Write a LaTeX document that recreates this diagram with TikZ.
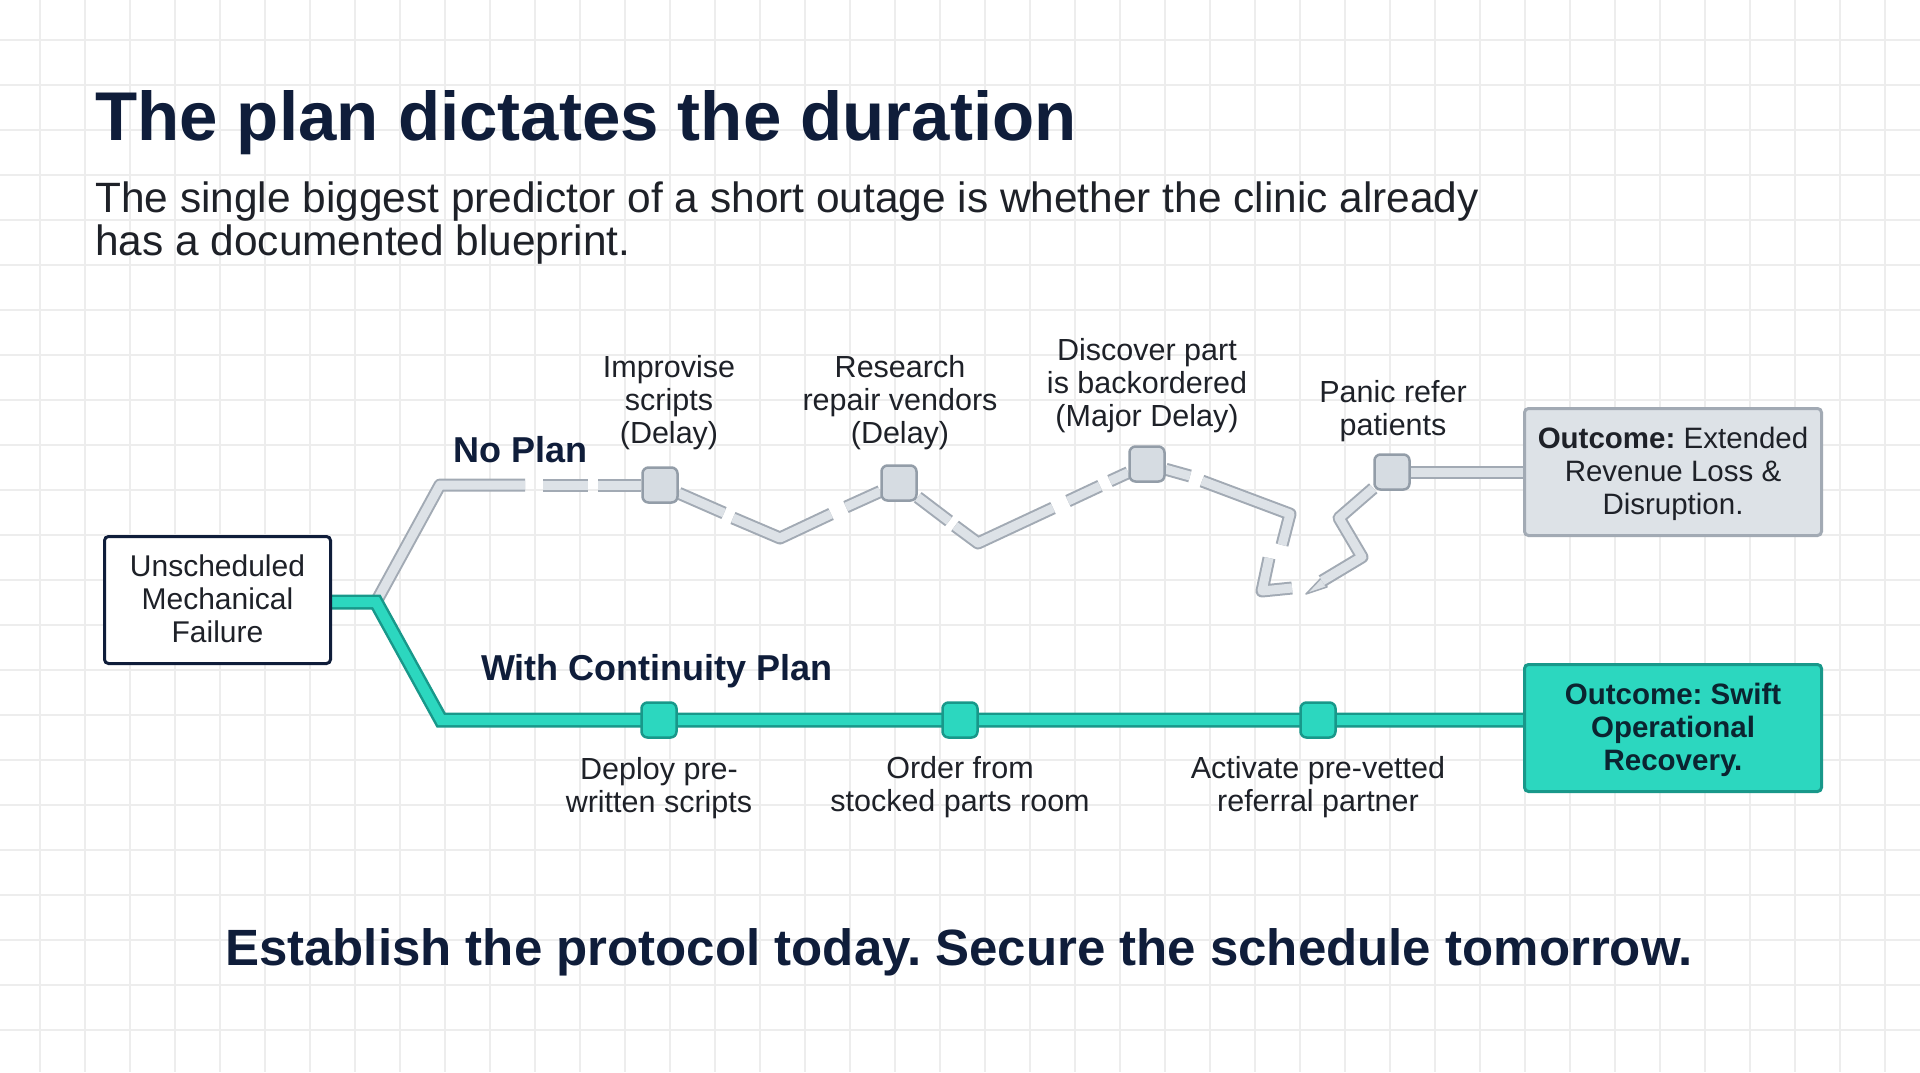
\documentclass[tikz,border=0pt]{standalone}
\usepackage{fontspec}
\setmainfont{Liberation Sans}
\frenchspacing
\definecolor{navy}{HTML}{0F1D3A}
\definecolor{ink}{HTML}{1E2128}
\definecolor{gridc}{HTML}{EDEDED}
\definecolor{greyline}{HTML}{A2AAB4}
\definecolor{greyfill}{HTML}{DDE2E7}
\definecolor{greynode}{HTML}{D6DCE2}
\definecolor{greyedge}{HTML}{939DA8}
\definecolor{tealline}{HTML}{18988A}
\definecolor{tealfill}{HTML}{2CD7BF}
\definecolor{tealtext}{HTML}{0B2430}
\newcommand\ls{\rule[-7pt]{0pt}{33pt}}
\newcommand\lsb{\rule[-9pt]{0pt}{43pt}}
\pgfdeclarelayer{bg}
\pgfsetlayers{bg,main}
\begin{document}
\frenchspacing
\begin{tikzpicture}[x=1pt,y=-1pt,
  lab/.style={font=\fontsize{30.5}{33}\selectfont, text=ink, align=center, inner sep=0pt},
  greyroad/.style={draw=greyline, line width=2pt, double=greyfill, double distance=9pt, line join=round},
  tealroad/.style={draw=tealline, line width=2.5pt, double=tealfill, double distance=10pt, line join=miter},
  gnode/.style={draw=greyedge, line width=2.5pt, fill=greynode, rounded corners=6pt, minimum size=35pt, inner sep=0pt},
  tnode/.style={draw=tealline, line width=2.5pt, fill=tealfill, rounded corners=6pt, minimum size=35pt, inner sep=0pt},
  startbox/.style={draw=navy, line width=3pt, fill=white, rounded corners=4pt, minimum width=226pt, minimum height=127pt, inner sep=0pt, align=center, font=\fontsize{30}{33}\selectfont, text=ink},
  badbox/.style={draw=greyline, line width=3pt, fill=greyfill, rounded corners=4pt, minimum width=297pt, minimum height=127pt, inner sep=0pt, align=center, font=\fontsize{29.5}{33}\selectfont, text=ink},
  goodbox/.style={draw=tealline, line width=3pt, fill=tealfill, rounded corners=4pt, minimum width=297pt, minimum height=127pt, inner sep=0pt, align=center, font=\fontsize{29.5}{33}\selectfont\bfseries, text=tealtext},
  head/.style={font=\fontsize{36}{40}\selectfont\bfseries, text=navy, inner sep=0pt, anchor=base west}
]
\useasboundingbox (0,0) rectangle (1920,1072);

% titles
\node[anchor=base west, inner sep=0pt, text=navy, font=\fontsize{69}{80}\selectfont\bfseries] (title) at (95,140) {The plan dictates the duration};
\node[anchor=north west, inner sep=0pt, align=left, text=ink, font=\fontsize{42.4}{43}\selectfont] (sub) at (95,178) {\lsb The single biggest predictor of a short outage is whether the clinic already\\\lsb has a documented blueprint.};
\node[anchor=base, inner sep=0pt, text=navy, font=\fontsize{51}{56}\selectfont\bfseries] (tag) at (959,965) {Establish the protocol today. Secure the schedule tomorrow.};

% boxes
\node[startbox] (start) at (217.5,600) {\ls Unscheduled\\\ls Mechanical\\\ls Failure};
\node[badbox] (bad) at (1673,472) {\ls\textbf{Outcome:} Extended\\\ls Revenue Loss \&\\\ls Disruption.};
\node[goodbox] (good) at (1673,728) {\ls Outcome: Swift\\\ls Operational\\\ls Recovery.};

% step nodes
\node[gnode] (N1) at (660,485) {};
\node[gnode] (N2) at (899,483) {};
\node[gnode] (N3) at (1147,464) {};
\node[gnode] (N4) at (1392,472) {};
\node[tnode] (T1) at (659,720) {};
\node[tnode] (T2) at (960,720) {};
\node[tnode] (T3) at (1318,720) {};

% path headings
\node[head] (noplan) at (453,462) {No Plan};
\node[head] (withplan) at (481,680) {With Continuity Plan};

% step labels
\node[lab] (L1) at (669,400.5) {\ls Improvise\\\ls scripts\\\ls (Delay)};
\node[lab] (L2) at (900,400.5) {\ls Research\\\ls repair vendors\\\ls (Delay)};
\node[lab] (L3) at (1147,384) {\ls Discover part\\\ls is backordered\\\ls (Major Delay)};
\node[lab] (L4) at (1393,409) {\ls Panic refer\\\ls patients};
\node[lab] (B1) at (659,786) {\ls Deploy pre-\\\ls written scripts};
\node[lab] (B2) at (960,785) {\ls Order from\\\ls stocked parts room};
\node[lab] (B3) at (1318,785) {\ls Activate pre-vetted\\\ls referral partner};

% coordinates of the broken grey route
\coordinate (br) at (376,602);
\coordinate (tc) at (441,720);
\coordinate (gc1) at (440,485);
\coordinate (g1e) at (525,485);
\coordinate (g2s) at (543,485);
\coordinate (g2e) at (588,485);
\coordinate (g3s) at (598,485);
\coordinate (g4e) at (724,513);
\coordinate (g5s) at (733,518);
\coordinate (v1) at (780,538);
\coordinate (g5e) at (831,514);
\coordinate (g6s) at (846,507);
\coordinate (g7e) at (949,521);
\coordinate (g8s) at (955,526);
\coordinate (v2) at (978,543);
\coordinate (g8e) at (1053,508);
\coordinate (g9s) at (1068,501);
\coordinate (g9e) at (1100,486);
\coordinate (g10s) at (1110,481);
\coordinate (g11e) at (1190,476);
\coordinate (g12s) at (1202,481);
\coordinate (c2) at (1290,514);
\coordinate (g12e) at (1282,545);
\coordinate (h1) at (1269,558);
\coordinate (h2) at (1262,591);
\coordinate (h3) at (1292,588);
\coordinate (s0) at (1306,594);
\coordinate (s1) at (1322,581);
\coordinate (s2) at (1362,557);
\coordinate (s3) at (1339,518);

\begin{pgfonlayer}{bg}
  \fill[white] (0,0) rectangle (1920,1072);
  \foreach \x in {40,85,...,1915} \draw[gridc, line width=1.3pt] (\x,0) -- (\x,1072);
  \foreach \y in {40,85,...,1070} \draw[gridc, line width=1.3pt] (0,\y) -- (1920,\y);
  % grey broken route
  \draw[greyroad] (br) -- (gc1) -- (g1e);
  \draw[greyroad] (g2s) -- (g2e);
  \draw[greyroad] (g3s) -- (N1);
  \draw[greyroad] (N1) -- (g4e);
  \draw[greyroad] (g5s) -- (v1) -- (g5e);
  \draw[greyroad] (g6s) -- (N2);
  \draw[greyroad] (N2) -- (g7e);
  \draw[greyroad] (g8s) -- (v2) -- (g8e);
  \draw[greyroad] (g9s) -- (g9e);
  \draw[greyroad] (g10s) -- (N3);
  \draw[greyroad] (N3) -- (g11e);
  \draw[greyroad] (g12s) -- (c2) -- (g12e);
  \draw[greyroad] (h1) -- (h2) -- (h3);
  \filldraw[fill=greyfill, draw=greyline, line width=1.5pt, line join=round] (s0) -- (1324,575) -- (1327,587) -- cycle;
  \draw[greyroad] (s1) -- (s2) -- (s3) -- (N4);
  \draw[greyroad] (N4) -- (bad.west |- N4);
  % teal route
  \draw[tealroad] (start.east |- br) -- (br) -- (tc) -- (good.west |- tc);
\end{pgfonlayer}
\end{tikzpicture}
\end{document}
